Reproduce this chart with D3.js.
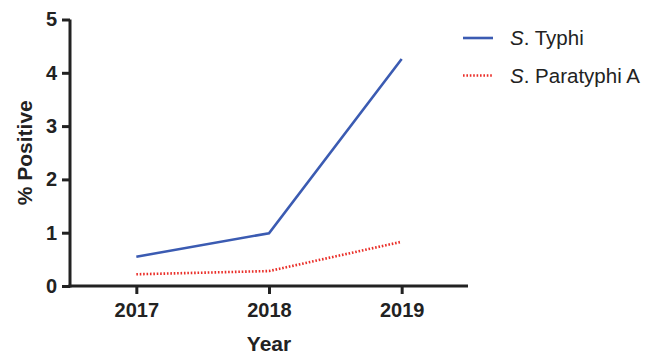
<!DOCTYPE html>
<html>
<head>
<meta charset="utf-8">
<script src="https://cdn.jsdelivr.net/npm/d3@7"></script>
<style>
  html, body { margin: 0; padding: 0; background: #fff; }
  svg { display: block; font-family: "Liberation Sans", Arial, sans-serif; }
</style>
</head>
<body>
<svg id="chart" width="656" height="354"></svg>
<script>
// Percentage of positive samples per year
const years = [2017, 2018, 2019];
const typhi = [0.55, 0.99, 4.26];
const paratyphiA = [0.22, 0.28, 0.83];
const yTicks = [0, 1, 2, 3, 4, 5];

const seriesNames = ["Typhi", "Paratyphi A"];
const seriesColors = ["#3b5bb2", "#ea2e28"];

const svg = d3.select("#chart");
const plotLeft = 70, plotRight = 468, plotTop = 19.5, plotBottom = 286;

const x = d3.scaleLinear().domain([2016.5, 2019.5]).range([plotLeft, plotRight]);
const y = d3.scaleLinear().domain([0, 5]).range([plotBottom, plotTop]);

const axisColor = "#222";

// Y axis
const gy = svg.append("g")
  .attr("transform", `translate(${plotLeft},0)`)
  .call(d3.axisLeft(y).tickValues(yTicks).tickFormat(d3.format("d")).tickSize(8).tickPadding(5));
// X axis
const gx = svg.append("g")
  .attr("transform", `translate(0,${plotBottom})`)
  .call(d3.axisBottom(x).tickValues(years).tickFormat(d3.format("d")).tickSize(8).tickPadding(8.5));

[gx, gy].forEach(g => {
  g.selectAll("path.domain").attr("stroke", axisColor).attr("stroke-width", 3)
    .attr("d", g === gx ? `M${plotLeft - 1.5},0H${plotRight}` : `M0,${plotTop}V${plotBottom + 1.5}`);
  g.selectAll(".tick line").attr("stroke", axisColor).attr("stroke-width", 3);
  g.selectAll(".tick text").attr("fill", axisColor)
    .style("font-size", "20px").style("font-weight", "bold")
    .style("font-family", "'Liberation Sans', Arial, sans-serif");
});

// Axis titles
svg.append("text")
  .attr("x", (plotLeft + plotRight) / 2).attr("y", 351)
  .attr("text-anchor", "middle")
  .attr("fill", axisColor)
  .style("font-size", "21px").style("font-weight", "bold")
  .text("Year");

svg.append("text")
  .attr("transform", `translate(32,${(plotTop + plotBottom) / 2}) rotate(-90)`)
  .attr("text-anchor", "middle")
  .attr("fill", axisColor)
  .style("font-size", "21px").style("font-weight", "bold")
  .text("% Positive");

// Lines
const line = d3.line().x((d, i) => x(years[i])).y(d => y(d));

svg.append("path")
  .datum(typhi)
  .attr("d", line)
  .attr("fill", "none")
  .attr("stroke", seriesColors[0])
  .attr("stroke-width", 2.6);

svg.append("path")
  .datum(paratyphiA)
  .attr("d", line)
  .attr("fill", "none")
  .attr("stroke", seriesColors[1])
  .attr("stroke-width", 2.6)
  .attr("stroke-dasharray", "1.6,1.8");

// Legend
const legend = svg.append("g");
const legendY = [38, 75.5];
seriesNames.forEach((name, i) => {
  const row = legend.append("g").attr("transform", `translate(0,${legendY[i]})`);
  row.append("line")
    .attr("x1", 463).attr("x2", 493)
    .attr("stroke", seriesColors[i])
    .attr("stroke-width", 2.6)
    .attr("stroke-dasharray", i === 1 ? "1.6,1.8" : null);
  const t = row.append("text")
    .attr("x", 510).attr("y", 7)
    .attr("fill", "#222")
    .style("font-size", "20.5px");
  t.append("tspan").style("font-style", "italic").text("S");
  t.append("tspan").text(". " + name);
});
</script>
</body>
</html>
